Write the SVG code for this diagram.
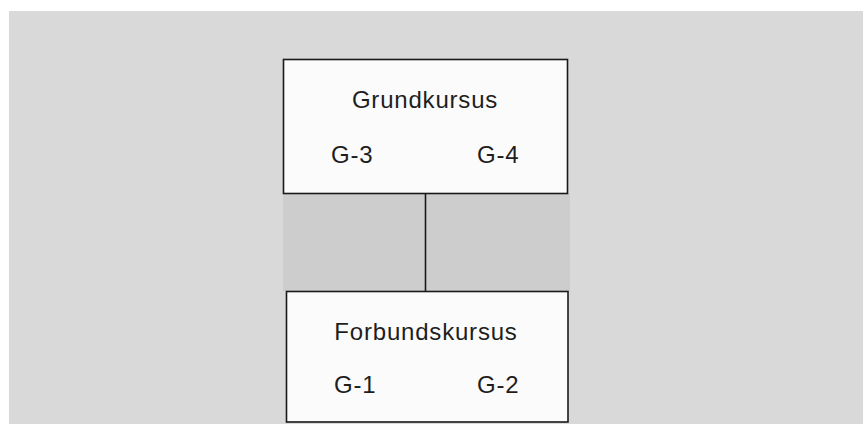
<svg xmlns="http://www.w3.org/2000/svg" width="863" height="424" viewBox="0 0 863 424">
<style>
.box{fill:#fbfbfb;stroke:#1a1a1a;stroke-width:1.6}
.t{font-family:"Liberation Sans",Arial,sans-serif;font-size:24px;fill:#1e1e1e;letter-spacing:0.8px}
.edge{stroke:#1a1a1a;stroke-width:1.6;fill:none}
</style>
<rect x="0" y="0" width="863" height="424" fill="#ffffff"/>
<rect x="9" y="11" width="854" height="413" fill="#d9d9d9"/>
<rect x="283" y="193" width="287" height="98" fill="#cdcdcd"/>
<g id="connectors">
<line class="edge" x1="425.5" y1="193" x2="425.5" y2="291"/>
</g>
<g id="grundkursus">
<rect class="box" x="283.5" y="59.5" width="284" height="134"/>
<text class="t" x="425" y="108" text-anchor="middle">Grundkursus</text>
<text class="t" x="331" y="163">G-3</text>
<text class="t" x="477" y="163">G-4</text>
</g>
<g id="forbundskursus">
<rect class="box" x="286.5" y="291.5" width="281.5" height="130.5"/>
<text class="t" x="426" y="340" text-anchor="middle">Forbundskursus</text>
<text class="t" x="334" y="393">G-1</text>
<text class="t" x="477" y="393">G-2</text>
</g>
</svg>
